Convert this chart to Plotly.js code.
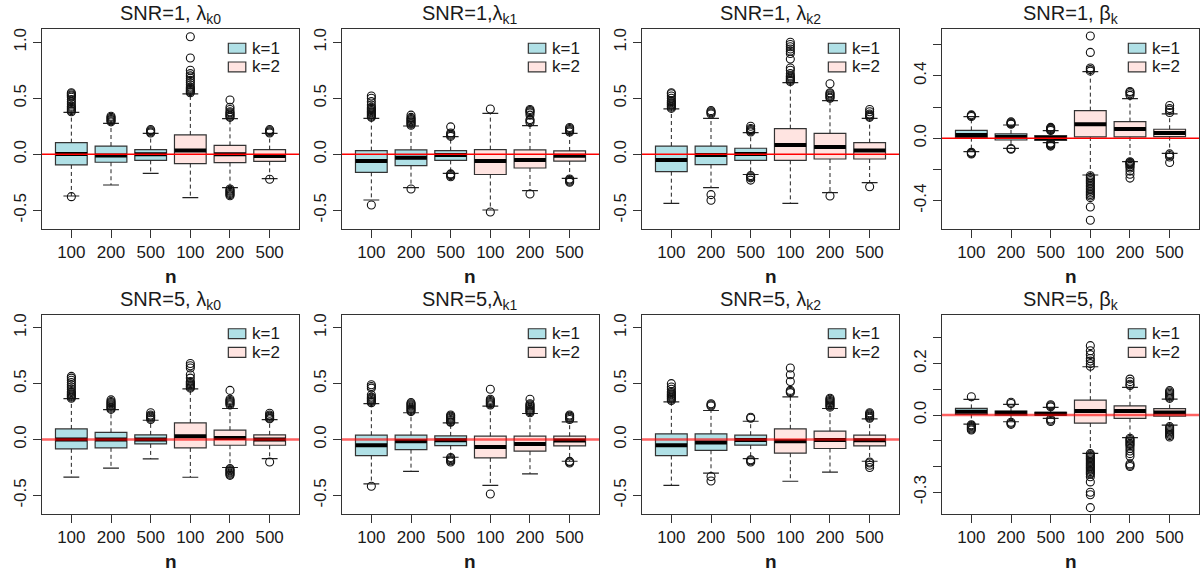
<!DOCTYPE html>
<html><head><meta charset="utf-8">
<script src="https://cdn.plot.ly/plotly-3.0.1.min.js"></script>
<style>html,body{margin:0;padding:0;background:#fff}#chart{width:1203px;height:575px}</style>
</head><body><div id="chart"></div>
<script>
// ---- categories / labels ----
const nLabels = ['100', '200', '500', '100', '200', '500'];
const boxPos = [1, 2, 3, 4, 5, 6];
const groupLabels = ['k=1', 'k=2'];
const groupColors = ['#B0E0E6', '#FFE4E1'];
const panelTitles = [
  'SNR=1, λ<sub>k0</sub>', 'SNR=1,λ<sub>k1</sub>', 'SNR=1, λ<sub>k2</sub>', 'SNR=1, β<sub>k</sub>',
  'SNR=5, λ<sub>k0</sub>', 'SNR=5,λ<sub>k1</sub>', 'SNR=5, λ<sub>k2</sub>', 'SNR=5, β<sub>k</sub>'
];
const lambdaTicks = [-0.5, 0, 0.5, 1.0];
const lambdaTickText = ['-0.5', '0.0', '0.5', '1.0'];
const beta1Ticks = [-0.4, -0.2, 0, 0.2, 0.4, 0.6];
const beta1TickText = ['-0.4', '', '0.0', '', '0.4', ''];
const beta5Ticks = [-0.3, -0.2, -0.1, 0, 0.1, 0.2, 0.3];
const beta5TickText = ['-0.3', '', '', '0.0', '', '0.2', ''];

// ---- SNR=1, lambda_k0 ----
const s1l0_q1 = [-0.095, -0.071, -0.054, -0.083, -0.074, -0.0625];
const s1l0_med = [0.003, -0.01, 0.0, 0.033, 0.0, -0.015];
const s1l0_q3 = [0.104, 0.074, 0.042, 0.173, 0.08, 0.042];
const s1l0_lo = [-0.372, -0.274, -0.17, -0.387, -0.298, -0.217];
const s1l0_hi = [0.375, 0.277, 0.1875, 0.539, 0.318, 0.1875];
const s1l0_out = [
  [0.38, 0.39, 0.40, 0.41, 0.42, 0.43, 0.45, 0.47, 0.49, 0.51, 0.52, 0.53, 0.54, 0.55, -0.378],
  [0.29, 0.30, 0.31, 0.32, 0.33, 0.34],
  [0.19, 0.20, 0.21, 0.22],
  [0.55, 0.56, 0.57, 0.58, 0.59, 0.60, 0.62, 0.64, 0.66, 0.68, 0.70, 0.72, 0.75, 0.86, 1.05],
  [0.33, 0.34, 0.35, 0.36, 0.37, 0.38, 0.40, 0.42, 0.485, -0.31, -0.32, -0.33, -0.34, -0.35, -0.36, -0.37],
  [0.19, 0.20, 0.21, 0.22, -0.223]
];

// ---- SNR=1, lambda_k1 ----
const s1l1_q1 = [-0.161, -0.101, -0.054, -0.18, -0.122, -0.06];
const s1l1_med = [-0.06, -0.03, -0.006, -0.06, -0.05, -0.012];
const s1l1_q3 = [0.033, 0.039, 0.033, 0.042, 0.039, 0.03];
const s1l1_lo = [-0.408, -0.298, -0.17, -0.497, -0.324, -0.214];
const s1l1_hi = [0.32, 0.253, 0.158, 0.366, 0.256, 0.1875];
const s1l1_out = [
  [0.33, 0.34, 0.35, 0.36, 0.37, 0.38, 0.39, 0.40, 0.41, 0.42, 0.44, 0.47, 0.50, 0.52, -0.452],
  [0.26, 0.27, 0.28, 0.29, 0.30, 0.31, 0.32, 0.33, 0.35, -0.31],
  [0.16, 0.17, 0.18, 0.19, 0.245, -0.175, -0.18, -0.19, -0.20],
  [0.405, -0.515],
  [0.285, 0.30, 0.31, 0.35, 0.37, 0.38, 0.39, 0.40, -0.354],
  [0.20, 0.21, 0.22, 0.23, 0.24, -0.22, -0.23, -0.24, -0.25]
];

// ---- SNR=1, lambda_k2 ----
const s1l2_q1 = [-0.155, -0.092, -0.054, -0.054, -0.042, -0.042];
const s1l2_med = [-0.05, -0.006, 0.003, 0.083, 0.065, 0.033];
const s1l2_q3 = [0.074, 0.074, 0.054, 0.229, 0.1875, 0.104];
const s1l2_lo = [-0.4375, -0.298, -0.18, -0.4375, -0.342, -0.253];
const s1l2_hi = [0.405, 0.32, 0.193, 0.64, 0.48, 0.32];
const s1l2_out = [
  [0.41, 0.42, 0.43, 0.44, 0.45, 0.46, 0.47, 0.48, 0.50, 0.52, 0.54, 0.55],
  [0.36, 0.37, 0.38, 0.39, -0.36, -0.41],
  [0.20, 0.21, 0.22, 0.23, 0.25, -0.19, -0.20, -0.21, -0.23],
  [0.65, 0.66, 0.67, 0.68, 0.69, 0.70, 0.72, 0.75, 0.77, 0.85, 0.90, 0.92, 0.94, 0.96, 0.98, 1.00],
  [0.50, 0.51, 0.52, 0.53, 0.54, 0.55, 0.63, -0.372],
  [0.33, 0.34, 0.35, 0.36, 0.38, 0.40, -0.289]
];

// ---- SNR=1, beta_k ----
const s1b_q1 = [0.004, -0.011, -0.013, 0.0085, 0.0085, 0.011];
const s1b_med = [0.021, 0.0085, 0.002, 0.09, 0.06, 0.034];
const s1b_q3 = [0.051, 0.028, 0.017, 0.177, 0.107, 0.058];
const s1b_lo = [-0.085, -0.064, -0.028, -0.235, -0.149, -0.096];
const s1b_hi = [0.139, 0.085, 0.049, 0.427, 0.254, 0.156];
const s1b_out = [
  [0.14, 0.145, 0.15, -0.09, -0.095, -0.10],
  [0.09, 0.095, 0.10, 0.105, -0.065, -0.07],
  [0.05, 0.055, 0.06, 0.065, 0.07, -0.03, -0.035, -0.04, -0.045, -0.05],
  [0.43, 0.44, 0.45, 0.55, 0.655, -0.24, -0.25, -0.26, -0.27, -0.28, -0.29, -0.30, -0.31, -0.32, -0.33, -0.34, -0.35, -0.36, -0.37, -0.38, -0.44, -0.525],
  [0.275, 0.285, 0.295, 0.30, -0.15, -0.155, -0.16, -0.165, -0.17, -0.18, -0.19, -0.21, -0.23, -0.255],
  [0.165, 0.18, 0.19, 0.21, -0.10, -0.11, -0.12, -0.155]
];

// ---- SNR=5, lambda_k0 ----
const s5l0_q1 = [-0.083, -0.074, -0.039, -0.075, -0.051, -0.051];
const s5l0_med = [0.0, 0.0, 0.0, 0.03, 0.015, 0.0];
const s5l0_q3 = [0.095, 0.065, 0.042, 0.149, 0.084, 0.042];
const s5l0_lo = [-0.336, -0.256, -0.173, -0.337, -0.25, -0.17];
const s5l0_hi = [0.366, 0.268, 0.173, 0.454, 0.278, 0.179];
const s5l0_out = [
  [0.37, 0.38, 0.39, 0.40, 0.41, 0.42, 0.43, 0.45, 0.47, 0.49, 0.51, 0.53, 0.55, 0.565],
  [0.27, 0.28, 0.29, 0.30, 0.31, 0.32, 0.33, 0.34, 0.355],
  [0.18, 0.19, 0.20, 0.21, 0.22, 0.24],
  [0.46, 0.47, 0.48, 0.49, 0.50, 0.51, 0.52, 0.55, 0.58, 0.64, 0.66, 0.68],
  [0.31, 0.32, 0.33, 0.34, 0.35, 0.36, 0.44, -0.26, -0.27, -0.28, -0.29, -0.30, -0.31, -0.32],
  [0.185, 0.19, 0.20, 0.21, 0.22, 0.235, -0.20]
];

// ---- SNR=5, lambda_k1 ----
const s5l1_q1 = [-0.143, -0.09, -0.054, -0.164, -0.104, -0.057];
const s5l1_med = [-0.05, -0.015, -0.006, -0.066, -0.039, -0.009];
const s5l1_q3 = [0.039, 0.039, 0.033, 0.03, 0.03, 0.03];
const s5l1_lo = [-0.397, -0.284, -0.158, -0.409, -0.307, -0.194];
const s5l1_hi = [0.322, 0.24, 0.149, 0.30, 0.233, 0.158];
const s5l1_out = [
  [0.33, 0.34, 0.35, 0.36, 0.37, 0.38, 0.40, 0.46, 0.475, 0.49, -0.418],
  [0.25, 0.26, 0.27, 0.28, 0.29, 0.30, 0.31, 0.32, 0.33],
  [0.155, 0.16, 0.17, 0.18, 0.19, 0.20, 0.21, 0.22, -0.16, -0.17, -0.18, -0.19, -0.20],
  [0.31, 0.32, 0.33, 0.34, 0.35, 0.36, 0.45, -0.487],
  [0.24, 0.25, 0.26, 0.27, 0.28, 0.29, 0.30, 0.31, 0.32, 0.36],
  [0.18, 0.19, 0.20, 0.21, 0.22, -0.195, -0.20, -0.21]
];

// ---- SNR=5, lambda_k2 ----
const s5l2_q1 = [-0.143, -0.096, -0.05, -0.122, -0.08, -0.057];
const s5l2_med = [-0.05, -0.027, -0.003, -0.015, -0.003, -0.006];
const s5l2_q3 = [0.051, 0.051, 0.039, 0.096, 0.075, 0.039];
const s5l2_lo = [-0.409, -0.30, -0.17, -0.373, -0.292, -0.194];
const s5l2_hi = [0.337, 0.26, 0.164, 0.382, 0.278, 0.185];
const s5l2_out = [
  [0.35, 0.36, 0.37, 0.38, 0.39, 0.40, 0.41, 0.42, 0.43, 0.45, 0.47, 0.50],
  [0.30, 0.31, 0.32, -0.33, -0.37],
  [0.19, 0.20, -0.18, -0.19, -0.20],
  [0.42, 0.43, 0.44, 0.52, 0.58, 0.64],
  [0.29, 0.30, 0.31, 0.32, 0.33, 0.34, 0.35, 0.36, 0.37],
  [0.19, 0.20, 0.21, 0.22, 0.23, 0.24, -0.20, -0.21, -0.23, -0.25]
];

// ---- SNR=5, beta_k ----
const s5b_q1 = [0.0026, 0.0, 0.0, -0.031, -0.013, -0.004];
const s5b_med = [0.013, 0.009, 0.005, 0.0156, 0.0156, 0.01];
const s5b_q3 = [0.026, 0.0156, 0.0104, 0.058, 0.036, 0.025];
const s5b_lo = [-0.035, -0.026, -0.013, -0.149, -0.088, -0.039];
const s5b_hi = [0.061, 0.0415, 0.03, 0.188, 0.108, 0.062];
const s5b_out = [
  [0.071, -0.038, -0.042, -0.046, -0.05, -0.054, -0.058],
  [0.045, 0.05, -0.028, -0.032, -0.036],
  [0.032, 0.036, 0.04, -0.015, -0.02, -0.025],
  [0.19, 0.20, 0.21, 0.22, 0.235, 0.25, 0.27, -0.15, -0.155, -0.16, -0.165, -0.17, -0.175, -0.18, -0.185, -0.19, -0.195, -0.20, -0.205, -0.21, -0.215, -0.22, -0.225, -0.23, -0.24, -0.26, -0.30, -0.31, -0.36],
  [0.115, 0.12, 0.13, 0.14, -0.09, -0.095, -0.10, -0.105, -0.11, -0.115, -0.12, -0.13, -0.14, -0.15, -0.16, -0.19, -0.195, -0.20],
  [0.065, 0.07, 0.075, 0.08, 0.085, 0.09, 0.095, -0.045, -0.05, -0.055, -0.06, -0.065, -0.07, -0.075, -0.08, -0.085]
];

// ---- assemble ----
const panels = [
  {q1: s1l0_q1, med: s1l0_med, q3: s1l0_q3, lo: s1l0_lo, hi: s1l0_hi, out: s1l0_out, tv: lambdaTicks, tt: lambdaTickText, range: [-0.664, 1.116]},
  {q1: s1l1_q1, med: s1l1_med, q3: s1l1_q3, lo: s1l1_lo, hi: s1l1_hi, out: s1l1_out, tv: lambdaTicks, tt: lambdaTickText, range: [-0.664, 1.116]},
  {q1: s1l2_q1, med: s1l2_med, q3: s1l2_q3, lo: s1l2_lo, hi: s1l2_hi, out: s1l2_out, tv: lambdaTicks, tt: lambdaTickText, range: [-0.664, 1.116]},
  {q1: s1b_q1, med: s1b_med, q3: s1b_q3, lo: s1b_lo, hi: s1b_hi, out: s1b_out, tv: beta1Ticks, tt: beta1TickText, range: [-0.579, 0.698]},
  {q1: s5l0_q1, med: s5l0_med, q3: s5l0_q3, lo: s5l0_lo, hi: s5l0_hi, out: s5l0_out, tv: lambdaTicks, tt: lambdaTickText, range: [-0.664, 1.116]},
  {q1: s5l1_q1, med: s5l1_med, q3: s5l1_q3, lo: s5l1_lo, hi: s5l1_hi, out: s5l1_out, tv: lambdaTicks, tt: lambdaTickText, range: [-0.664, 1.116]},
  {q1: s5l2_q1, med: s5l2_med, q3: s5l2_q3, lo: s5l2_lo, hi: s5l2_hi, out: s5l2_out, tv: lambdaTicks, tt: lambdaTickText, range: [-0.664, 1.116]},
  {q1: s5b_q1, med: s5b_med, q3: s5b_q3, lo: s5b_lo, hi: s5b_hi, out: s5b_out, tv: beta5Ticks, tt: beta5TickText, range: [-0.384, 0.390]}
];

const W = 1203, H = 575;
const FONT = 'Liberation Sans, Arial, sans-serif';
const TXT = '#1a1a1a';
const BOXW = 0.8, STAPLE = 0.4;
const rowsPx = [[29.3, 228.7], [314.8, 513.8]];
const traces = [];
const layout = {
  width: W, height: H, margin: {l: 0, r: 0, t: 0, b: 0, pad: 0},
  paper_bgcolor: '#fff', plot_bgcolor: '#fff', showlegend: false,
  font: {family: FONT, color: TXT, size: 17},
  shapes: [], annotations: []
};

panels.forEach((p, i) => {
  const s = i === 0 ? '' : String(i + 1);
  const xa = 'x' + s, ya = 'y' + s;
  const col = i % 4, row = Math.floor(i / 4);
  const xl = 42 + 300 * col, xr = 299 + 300 * col;
  const yt = rowsPx[row][0], yb = rowsPx[row][1];

  layout['xaxis' + s] = {
    domain: [xl / W, xr / W], anchor: ya, range: [0.26, 6.74],
    tickmode: 'array', tickvals: boxPos, ticktext: nLabels,
    ticks: 'outside', ticklen: 8, tickwidth: 1, tickcolor: '#333',
    showline: true, mirror: true, linecolor: '#333', linewidth: 1,
    showgrid: false, zeroline: false, automargin: false, fixedrange: true,
    tickfont: {family: FONT, size: 17, color: TXT}
  };
  layout['yaxis' + s] = {
    domain: [1 - yb / H, 1 - yt / H], anchor: xa, range: p.range,
    tickmode: 'array', tickvals: p.tv, ticktext: p.tt, tickangle: -90,
    ticks: 'outside', ticklen: 8, tickwidth: 1, tickcolor: '#333',
    showline: true, mirror: true, linecolor: '#333', linewidth: 1,
    showgrid: false, zeroline: false, automargin: false, fixedrange: true,
    tickfont: {family: FONT, size: 17, color: TXT}
  };

  // box bodies
  [0, 1].forEach(g => {
    const a = g * 3, b = g * 3 + 3;
    traces.push({
      type: 'box', xaxis: xa, yaxis: ya,
      x: boxPos.slice(a, b), q1: p.q1.slice(a, b), median: p.med.slice(a, b), q3: p.q3.slice(a, b),
      lowerfence: p.q1.slice(a, b), upperfence: p.q3.slice(a, b),
      width: BOXW, whiskerwidth: 0, boxpoints: false,
      fillcolor: groupColors[g], line: {color: '#333', width: 1.2},
      hoverinfo: 'skip', name: groupLabels[g]
    });
  });

  // whiskers, staples, medians, outliers
  const wx = [], wy = [], sx = [], sy = [], mx = [], my = [], ox = [], oy = [];
  boxPos.forEach((pos, j) => {
    wx.push(pos, pos, null, pos, pos, null);
    wy.push(p.q3[j], p.hi[j], null, p.q1[j], p.lo[j], null);
    sx.push(pos - STAPLE / 2, pos + STAPLE / 2, null, pos - STAPLE / 2, pos + STAPLE / 2, null);
    sy.push(p.hi[j], p.hi[j], null, p.lo[j], p.lo[j], null);
    mx.push(pos - BOXW / 2, pos + BOXW / 2, null);
    my.push(p.med[j], p.med[j], null);
    p.out[j].forEach(v => { ox.push(pos); oy.push(v); });
  });
  traces.push({type: 'scatter', mode: 'lines', xaxis: xa, yaxis: ya, x: wx, y: wy,
    line: {color: '#222', width: 1, dash: '4px,3px'}, hoverinfo: 'skip', connectgaps: false});
  traces.push({type: 'scatter', mode: 'lines', xaxis: xa, yaxis: ya, x: sx, y: sy,
    line: {color: '#222', width: 1.2}, hoverinfo: 'skip', connectgaps: false});
  traces.push({type: 'scatter', mode: 'lines', xaxis: xa, yaxis: ya, x: mx, y: my,
    line: {color: '#000', width: 4}, hoverinfo: 'skip', connectgaps: false});
  traces.push({type: 'scatter', mode: 'markers', xaxis: xa, yaxis: ya, x: ox, y: oy,
    marker: {symbol: 'circle-open', size: 8, color: '#111', line: {width: 1.1}}, hoverinfo: 'skip'});

  // red reference line at 0
  layout.shapes.push({type: 'line', xref: xa + ' domain', yref: ya, x0: 0, x1: 1, y0: 0, y1: 0,
    line: row === 0 ? {color: '#FF0000', width: 1.6} : {color: 'rgba(255,0,0,0.62)', width: 2.6},
    layer: 'above'});

  // legend
  const legY = [[0.930, 0.880], [0.836, 0.786]];
  [0, 1].forEach(g => {
    layout.shapes.push({type: 'rect', xref: xa + ' domain', yref: ya + ' domain',
      x0: 0.725, x1: 0.793, y0: legY[g][1], y1: legY[g][0],
      fillcolor: groupColors[g], line: {color: '#333', width: 1.2}, layer: 'above'});
    layout.annotations.push({xref: xa + ' domain', yref: ya + ' domain', x: 0.808, y: (legY[g][0] + legY[g][1]) / 2,
      xanchor: 'left', yanchor: 'middle', showarrow: false, text: groupLabels[g],
      font: {family: FONT, size: 17, color: TXT}});
  });

  // title
  layout.annotations.push({xref: 'paper', yref: 'paper', x: ((xl + xr) / 2) / W, y: 1 - (row === 0 ? 15 : 300) / H,
    xanchor: 'center', yanchor: 'middle', showarrow: false, text: panelTitles[i],
    font: {family: FONT, size: 20, color: TXT}});
  // x axis title
  layout.annotations.push({xref: 'paper', yref: 'paper', x: ((xl + xr) / 2) / W, y: 1 - (yb + 48) / H,
    xanchor: 'center', yanchor: 'middle', showarrow: false, text: '<b>n</b>',
    font: {family: FONT, size: 19, color: TXT}});
});

Plotly.newPlot('chart', traces, layout, {staticPlot: true, displayModeBar: false});
</script>
</body></html>
